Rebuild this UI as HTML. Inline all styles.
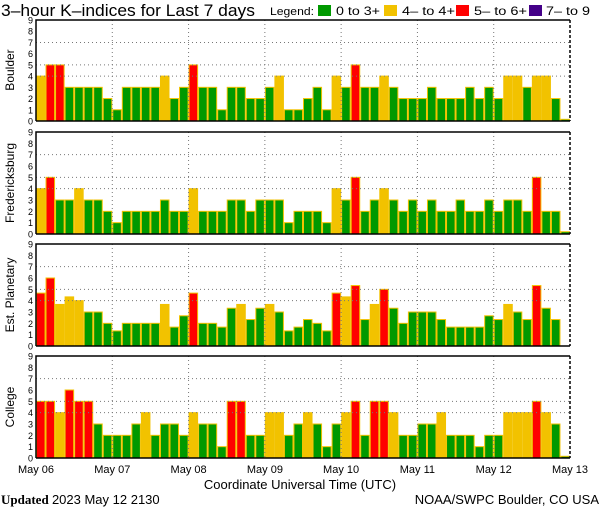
<!DOCTYPE html>
<html><head><meta charset="utf-8"><style>
body{margin:0;background:#fff}
svg{display:block;font-family:"Liberation Sans",sans-serif}
</style></head><body>
<svg id="s" width="600" height="510" viewBox="0 0 600 510" xmlns="http://www.w3.org/2000/svg">
<rect width="600" height="510" fill="#fff"/>
<text x="1" y="16" font-size="17" textLength="254" lengthAdjust="spacingAndGlyphs" fill="#000">3–hour K–indices for Last 7 days</text>
<text x="270" y="15" font-size="11" textLength="44" lengthAdjust="spacingAndGlyphs">Legend:</text>
<rect x="318" y="5" width="13" height="11" fill="#009900"/><text x="336" y="15" font-size="12" textLength="44" lengthAdjust="spacingAndGlyphs">0 to 3+</text>
<rect x="384" y="5" width="13" height="11" fill="#f2c200"/><text x="402" y="15" font-size="12" textLength="53" lengthAdjust="spacingAndGlyphs">4– to 4+</text>
<rect x="456" y="5" width="13" height="11" fill="#ff0000"/><text x="474" y="15" font-size="12" textLength="53" lengthAdjust="spacingAndGlyphs">5– to 6+</text>
<rect x="529" y="5" width="13" height="11" fill="#440088"/><text x="546" y="15" font-size="12" textLength="44" lengthAdjust="spacingAndGlyphs">7– to 9</text>
<g id="g"></g>
<g font-size="11" text-anchor="middle">
<text x="36" y="473">May 06</text><text x="112.3" y="473">May 07</text><text x="188.6" y="473">May 08</text><text x="264.9" y="473">May 09</text><text x="341.1" y="473">May 10</text><text x="417.4" y="473">May 11</text><text x="493.7" y="473">May 12</text><text x="570" y="473">May 13</text>
<text x="300" y="489" font-size="13">Coordinate Universal Time (UTC)</text>
</g>
<text x="1" y="504" font-size="13" font-family="Liberation Serif,serif" font-weight="bold">Updated <tspan font-family="Liberation Sans,sans-serif" font-weight="normal">2023 May 12 2130</tspan></text>
<text x="599" y="504" font-size="13" text-anchor="end">NOAA/SWPC Boulder, CO USA</text>
<g font-size="12" text-anchor="middle">
<text transform="translate(14,70) rotate(-90)">Boulder</text>
<text transform="translate(14,183) rotate(-90)">Fredericksburg</text>
<text transform="translate(14,295) rotate(-90)">Est. Planetary</text>
<text transform="translate(14,407) rotate(-90)">College</text>
</g>
<g font-size="9" text-anchor="end" id="yl"></g>
</svg>
<script>
var P=[[20,121],[132,234],[244,346],[356,458]];
var a=2/3,b=4/3,c=5/3,d=7/3,e=8/3,f=10/3,h=11/3,k=13/3,m=14/3,n=16/3;
var D=[
[4,5,5,3,3,3,3,2,1,3,3,3,3,4,2,3,5,3,3,1,3,3,2,2,3,4,1,1,2,3,1,4,3,5,3,3,4,3,2,2,2,3,2,2,2,3,2,3,2,4,4,3,4,4,2,0.15],
[4,5,3,3,4,3,3,2,1,2,2,2,2,3,2,2,4,2,2,2,3,3,2,3,3,3,1,2,2,2,1,4,3,5,2,3,4,3,2,3,2,3,2,2,3,2,2,3,2,3,3,2,5,2,2,0.2],
[m,6,h,k,4,3,3,2,b,2,2,2,2,h,c,e,m,2,2,c,f,h,d,f,h,3,b,c,d,2,b,m,k,n,d,h,5,f,2,3,3,3,d,c,c,c,c,e,d,h,3,d,n,f,d,0],
[5,5,4,6,5,5,3,2,2,2,3,4,2,3,3,2,4,3,3,1,5,5,2,2,4,4,2,3,4,3,1,3,4,5,2,5,5,4,2,2,3,3,4,2,2,2,1,2,2,4,4,4,5,4,3,0.15]];
var x0=36,x1=570,bw=(x1-x0)/56,dw=(x1-x0)/7,s='',yl='';
P.forEach(function(p,i){
 var t=p[0],bt=p[1],u=(bt-t)/9;
 D[i].forEach(function(v,j){ if(v<=0)return;
  var col=v<3.6?'#009900':(v<4.5?'#f2c200':'#ff0000');
  var x=x0+j*bw,y=bt-v*u;
  s+='<rect x="'+(x+0.5)+'" y="'+y+'" width="'+(bw-1)+'" height="'+(v*u)+'" fill="'+col+'" stroke="#f2c200" stroke-width="1"/>';
 });
 [4,5,7].forEach(function(l){var y=bt-l*u;s+='<line x1="'+x0+'" x2="'+x1+'" y1="'+y+'" y2="'+y+'" stroke="#777" stroke-dasharray="1,3"/>';});
 for(var q=1;q<7;q++){var x=x0+q*dw;s+='<line x1="'+x+'" x2="'+x+'" y1="'+t+'" y2="'+bt+'" stroke="#777" stroke-dasharray="1,3"/>';}
 s+='<path d="M'+x0+' '+bt+'V'+t+'H'+x1+'M'+x0+' '+bt+'H'+x1+'" fill="none" stroke="#000" stroke-width="1.5"/>';
 s+='<line x1="'+x1+'" x2="'+x1+'" y1="'+t+'" y2="'+bt+'" stroke="#000" stroke-width="1.5" stroke-dasharray="3,2"/>';
 for(var l=0;l<=9;l++){yl+='<text x="33" y="'+(bt-l*u+3.5)+'">'+l+'</text>';}
});
document.getElementById('g').innerHTML=s;
document.getElementById('yl').innerHTML=yl;
</script>
</body></html>
